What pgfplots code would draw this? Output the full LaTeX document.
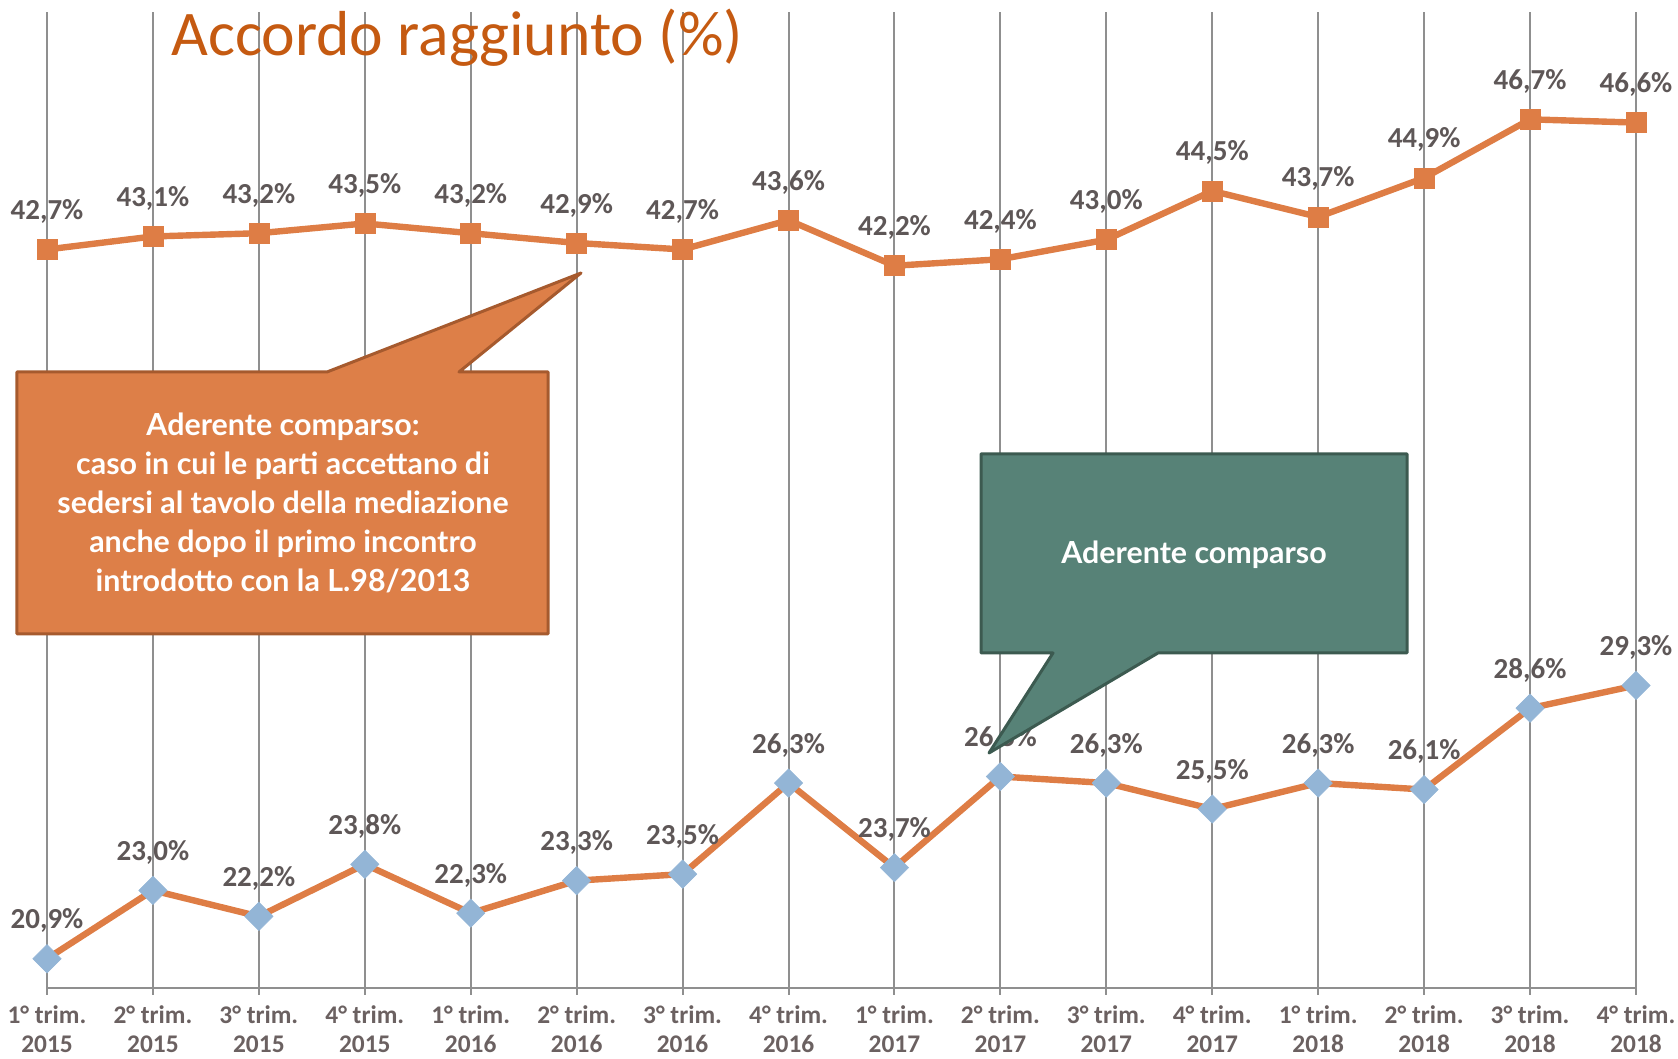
\documentclass[border=0pt]{standalone}
\usepackage{fontspec}
\usepackage{pgfplots}
\pgfplotsset{compat=1.18}
\setmainfont{Carlito}
\newfontfamily\callfont{Lato}
\definecolor{lineor}{HTML}{DE7D45}
\definecolor{diablue}{HTML}{93B5D6}
\definecolor{labgray}{HTML}{5E5757}
\definecolor{tickgray}{HTML}{6B6161}
\definecolor{titleor}{HTML}{C55A11}
\definecolor{gridgray}{HTML}{8F8F8F}
\definecolor{calor}{HTML}{DD7F48}
\definecolor{calorb}{HTML}{A65A2E}
\definecolor{calgr}{HTML}{578277}
\definecolor{calgrb}{HTML}{3C5A50}
\begin{document}
\begin{tikzpicture}
\begin{axis}[name=ax, at={(0,0)}, anchor=south west,
  scale only axis, width=794.5pt, height=488pt,
  xmin=0, xmax=15, ymin=20, ymax=50,
  axis x line*=bottom, axis y line=none,
  xtick={0,...,15}, ytick=\empty,
  xticklabels={1° trim.\\2015,2° trim.\\2015,3° trim.\\2015,4° trim.\\2015,
    1° trim.\\2016,2° trim.\\2016,3° trim.\\2016,4° trim.\\2016,
    1° trim.\\2017,2° trim.\\2017,3° trim.\\2017,4° trim.\\2017,
    1° trim.\\2018,2° trim.\\2018,3° trim.\\2018,4° trim.\\2018},
  xticklabel style={align=center, font=\fontsize{12.7}{14.5}\selectfont\bfseries, text=tickgray, yshift=-2pt},
  xmajorgrids, grid style={gridgray, line width=1pt},
  x axis line style={gridgray, line width=1pt},
  tick style={gridgray, line width=1pt}, tick align=outside, major tick length=3.5pt,
  clip=false,
  /pgf/number format/.cd, use comma, fixed, fixed zerofill, precision=1, assume math mode=true,
]
\addplot[color=lineor, line width=3.2pt, mark=square*, mark size=5pt,
  mark options={fill=lineor, draw=lineor, line width=0.3pt},
  point meta=y,
  nodes near coords={\pgfmathprintnumber{\pgfplotspointmeta}\%},
  every node near coord/.append style={font=\fontsize{14.5}{16}\selectfont\bfseries, text=labgray, anchor=center, yshift=19pt}]
coordinates {(0,42.7)(1,43.1)(2,43.2)(3,43.5)(4,43.2)(5,42.9)(6,42.7)(7,43.6)(8,42.2)(9,42.4)(10,43.0)(11,44.5)(12,43.7)(13,44.9)(14,46.7)(15,46.6)};
\addplot[color=lineor, line width=3.2pt, mark=square*, mark size=5pt,
  mark options={fill=diablue, draw=diablue, line width=0.3pt, rotate=45},
  point meta=y,
  nodes near coords={\pgfmathprintnumber{\pgfplotspointmeta}\%},
  every node near coord/.append style={font=\fontsize{14.5}{16}\selectfont\bfseries, text=labgray, anchor=center, yshift=19pt}]
coordinates {(0,20.9)(1,23.0)(2,22.2)(3,23.8)(4,22.3)(5,23.3)(6,23.5)(7,26.3)(8,23.7)(9,26.5)(10,26.3)(11,25.5)(12,26.3)(13,26.1)(14,28.6)(15,29.3)};
\end{axis}
\coordinate (O) at ([xshift=-23.5pt, yshift=494pt]ax.south west);
\begin{scope}[shift={(O)}, x=0.5pt, y=-0.5pt]
  \node[anchor=base west, inner sep=0, text=titleor, font=\fontsize{31.8}{36}\selectfont] at (171,56) {Accordo raggiunto (\%)};
  \draw[fill=calor, draw=calorb, line width=1.5pt, line join=round]
    (17,372) -- (327,372) -- (581,273) -- (459,372) -- (548,372) -- (548,634) -- (17,634) -- cycle;
  \node[align=center, text=white, font=\callfont\bfseries\fontsize{15.2}{19.4}\selectfont] at (283,503)
    {Aderente comparso:\\caso in cui le parti accettano di\\sedersi al tavolo della mediazione\\anche dopo il primo incontro\\introdotto con la L.98/2013};
  \draw[fill=calgr, draw=calgrb, line width=1.5pt, line join=round]
    (981,454) -- (1407,454) -- (1407,653) -- (1158,653) -- (989,753) -- (1053,653) -- (981,653) -- cycle;
  \node[text=white, font=\callfont\bfseries\fontsize{15.2}{19.4}\selectfont] at (1194,555) {Aderente comparso};
\end{scope}
\pgfresetboundingbox
\path (O) rectangle ([xshift=839pt, yshift=-529.5pt]O);
\end{tikzpicture}
\end{document}
